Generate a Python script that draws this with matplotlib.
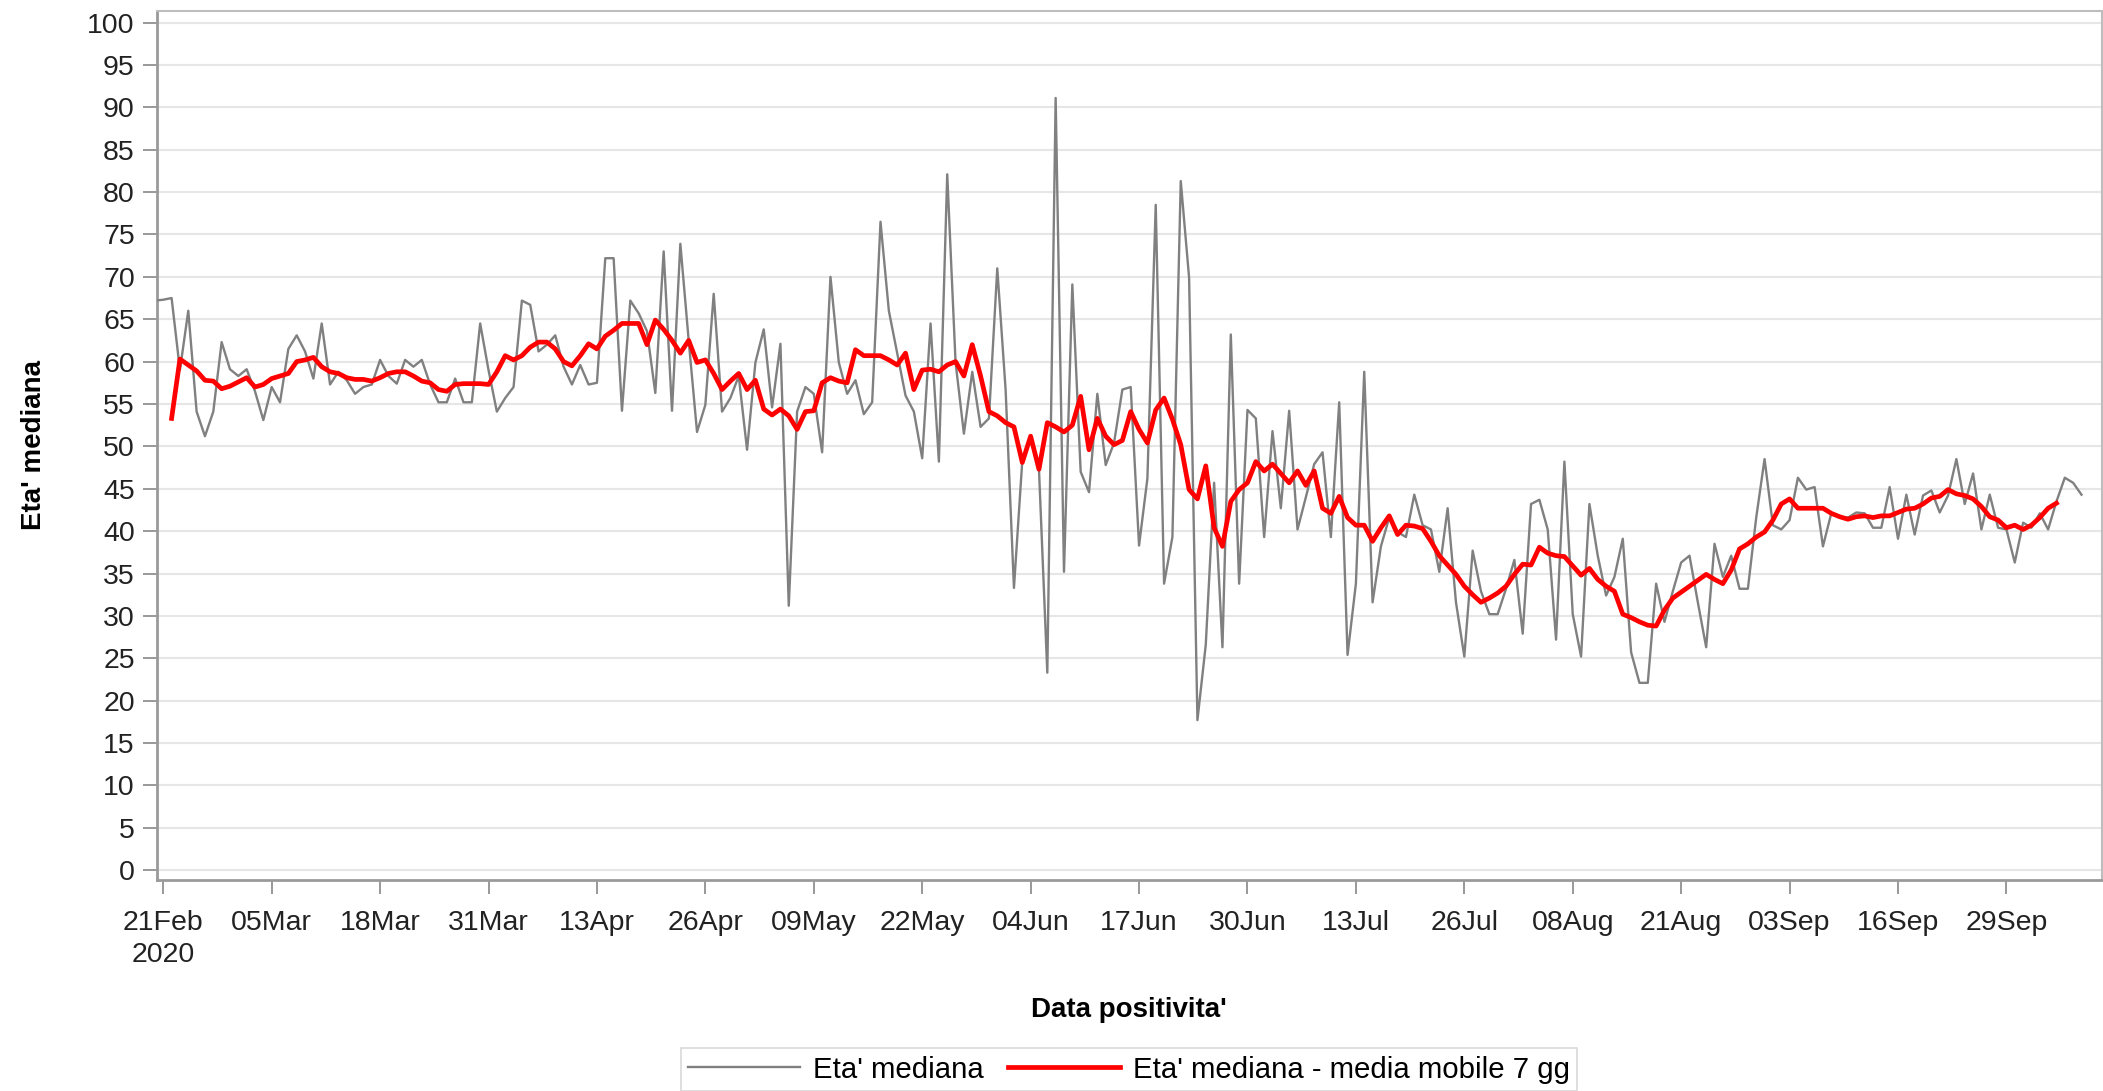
import matplotlib
matplotlib.use("Agg")
import matplotlib.pyplot as plt
import pandas as pd

plt.rcParams["font.family"] = ["Liberation Sans", "DejaVu Sans"]

# daily median age (gray), first value = 20 Feb 2020
median_start = "2020-02-20"
median_age = [
    67.2, 67.3, 67.5, 59.0, 66.0, 54.1, 51.2, 54.1, 62.3, 59.1,
    58.3, 59.1, 56.5, 53.1, 57.0, 55.2, 61.5, 63.1, 61.2, 58.0,
    64.5, 57.3, 58.8, 57.8, 56.2, 57.0, 57.3, 60.2, 58.3, 57.4,
    60.2, 59.4, 60.2, 57.3, 55.2, 55.2, 58.0, 55.2, 55.2, 64.5,
    59.0, 54.1, 55.7, 57.0, 67.2, 66.7, 61.2, 62.0, 63.1, 59.4,
    57.3, 59.6, 57.3, 57.5, 72.2, 72.2, 54.2, 67.2, 65.7, 63.6,
    56.3, 73.0, 54.2, 73.9, 62.5, 51.7, 54.9, 68.0, 54.1, 55.7,
    58.3, 49.6, 59.9, 63.8, 54.6, 62.1, 31.2, 54.1, 57.0, 56.2,
    49.3, 70.0, 59.9, 56.2, 57.8, 53.8, 55.2, 76.5, 66.0, 61.0,
    56.0, 54.1, 48.6, 64.5, 48.2, 82.1, 59.9, 51.5, 58.8, 52.3,
    53.3, 71.0, 56.7, 33.3, 48.3, 51.2, 47.3, 23.3, 91.1, 35.2,
    69.1, 47.0, 44.6, 56.2, 47.8, 50.4, 56.7, 57.0, 38.3, 46.2,
    78.5, 33.8, 39.3, 81.3, 69.9, 17.7, 26.6, 45.7, 26.3, 63.2,
    33.8, 54.3, 53.3, 39.3, 51.8, 42.7, 54.2, 40.2, 44.0, 47.9,
    49.3, 39.3, 55.2, 25.4, 33.8, 58.8, 31.6, 38.2, 41.6, 39.9,
    39.3, 44.3, 40.7, 40.2, 35.2, 42.7, 31.6, 25.2, 37.7, 32.9,
    30.2, 30.2, 33.2, 36.6, 27.9, 43.2, 43.7, 40.2, 27.2, 48.2,
    30.2, 25.2, 43.2, 37.1, 32.4, 34.6, 39.1, 25.7, 22.1, 22.1,
    33.8, 29.3, 32.9, 36.3, 37.1, 31.6, 26.3, 38.5, 34.6, 37.1,
    33.2, 33.2, 41.6, 48.5, 40.7, 40.2, 41.3, 46.3, 44.9, 45.2,
    38.2, 42.1, 41.7, 41.6, 42.2, 42.1, 40.4, 40.4, 45.2, 39.1,
    44.3, 39.6, 44.2, 44.8, 42.2, 44.2, 48.5, 43.2, 46.8, 40.2,
    44.3, 40.4, 40.2, 36.3, 41.0, 40.4, 42.1, 40.2, 43.5, 46.3,
    45.7, 44.3,
]

# 7-day moving average (red), first value = 22 Feb 2020
moving_start = "2020-02-22"
moving_avg = [
    53.3, 60.3, 59.6, 58.9, 57.8, 57.7, 56.8, 57.1, 57.6, 58.1,
    57.0, 57.3, 58.0, 58.3, 58.6, 60.0, 60.2, 60.5, 59.4, 58.8,
    58.6, 58.1, 57.9, 57.9, 57.7, 58.1, 58.6, 58.8, 58.8, 58.3,
    57.7, 57.5, 56.7, 56.5, 57.3, 57.4, 57.4, 57.4, 57.3, 58.8,
    60.7, 60.2, 60.7, 61.7, 62.3, 62.3, 61.5, 60.0, 59.5, 60.7,
    62.1, 61.5, 63.0, 63.7, 64.5, 64.5, 64.5, 62.0, 64.9, 63.8,
    62.5, 61.0, 62.5, 59.9, 60.2, 58.6, 56.7, 57.7, 58.6, 56.7,
    57.8, 54.4, 53.7, 54.4, 53.6, 52.0, 54.1, 54.2, 57.5, 58.1,
    57.7, 57.5, 61.4, 60.7, 60.7, 60.7, 60.2, 59.6, 61.0, 56.7,
    59.0, 59.1, 58.8, 59.6, 60.0, 58.3, 62.0, 58.3, 54.1, 53.6,
    52.8, 52.3, 48.1, 51.2, 47.3, 52.8, 52.3, 51.7, 52.5, 55.9,
    49.6, 53.3, 51.2, 50.2, 50.7, 54.1, 52.0, 50.4, 54.3, 55.7,
    53.2, 50.2, 44.9, 43.8, 47.7, 40.4, 38.2, 43.5, 44.9, 45.7,
    48.2, 47.1, 47.9, 46.8, 45.7, 47.1, 45.4, 47.1, 42.7, 42.1,
    44.1, 41.6, 40.7, 40.7, 38.8, 40.4, 41.8, 39.6, 40.7, 40.6,
    40.3, 38.8, 37.1, 36.0, 34.9, 33.5, 32.5, 31.6, 32.1, 32.7,
    33.5, 34.9, 36.1, 36.0, 38.1, 37.4, 37.1, 37.0, 35.9, 34.8,
    35.6, 34.3, 33.5, 32.9, 30.2, 29.8, 29.3, 28.9, 28.8, 30.7,
    32.1, 32.8, 33.5, 34.2, 34.9, 34.3, 33.8, 35.4, 37.9, 38.5,
    39.3, 39.9, 41.3, 43.2, 43.8, 42.7, 42.7, 42.7, 42.7, 42.1,
    41.7, 41.4, 41.7, 41.8, 41.6, 41.8, 41.8, 42.2, 42.6, 42.7,
    43.2, 43.9, 44.1, 44.9, 44.4, 44.2, 43.8, 42.9, 41.7, 41.3,
    40.4, 40.7, 40.2, 40.7, 41.6, 42.7, 43.3,
]

tick_start = "2020-02-21"
tick_step_days = 13
n_ticks = 18
y_ticks = list(range(0, 101, 5))

label_gray = "Eta' mediana"
label_red = "Eta' mediana - media mobile 7 gg"

gray_dates = pd.date_range(median_start, periods=len(median_age), freq="D")
red_dates = pd.date_range(moving_start, periods=len(moving_avg), freq="D")
tick_dates = pd.date_range(tick_start, periods=n_ticks, freq=f"{tick_step_days}D")

W, H = 2103, 1091
fig = plt.figure(figsize=(W / 100, H / 100), dpi=100)
ax = fig.add_axes([157 / W, 1 - 880 / H, (2101.5 - 157) / W, (880 - 10.7) / H])

ax.plot(gray_dates, median_age, color="#808080", lw=1.7, label=label_gray, zorder=3)
ax.plot(red_dates, moving_avg, color="#ff0000", lw=3.4, label=label_red, zorder=4,
        solid_joinstyle="round")

t0 = pd.Timestamp(tick_start)
ax.set_xlim(t0 - pd.Timedelta(hours=18), t0 + pd.Timedelta(days=232.4))
ax.set_ylim(-1.16, 101.4)

ax.set_yticks(y_ticks)
ax.set_xticks(tick_dates)
xlabels = [d.strftime("%d%b") for d in tick_dates]
xlabels[0] = xlabels[0] + "\n" + tick_dates[0].strftime("%Y")
ax.set_xticklabels(xlabels)

ax.grid(axis="y", color="#e6e6e6", lw=1.5, zorder=0)
ax.set_axisbelow(True)

ax.tick_params(axis="both", labelsize=20.5, length=10, width=1.2)
ax.tick_params(axis="x", colors="#888888", labelcolor="#222222", pad=11.5)
ax.tick_params(axis="y", colors="#888888", labelcolor="#222222", pad=6)
for lab in ax.get_xticklabels():
    lab.set_linespacing(1.3)

for side in ("left", "bottom"):
    ax.spines[side].set_color("#9a9a9a")
    ax.spines[side].set_linewidth(2.0)
for side in ("top", "right"):
    ax.spines[side].set_color("#bdbdbd")
    ax.spines[side].set_linewidth(1.5)

ax.set_ylabel(label_gray, fontsize=20, fontweight="bold", labelpad=29)
ax.set_xlabel("Data positivita'", fontsize=20, fontweight="bold", labelpad=21)

leg = fig.legend(loc="lower center", bbox_to_anchor=(1129 / W, 0.0), ncol=2,
                 fontsize=21.2, frameon=True, fancybox=False, handlelength=3.8,
                 handletextpad=0.45, columnspacing=0.8, borderpad=0.25,
                 borderaxespad=0.0)
leg.get_frame().set_edgecolor("#d0d0d0")
leg.get_frame().set_linewidth(1.2)

fig.savefig("out.png", dpi=100)
